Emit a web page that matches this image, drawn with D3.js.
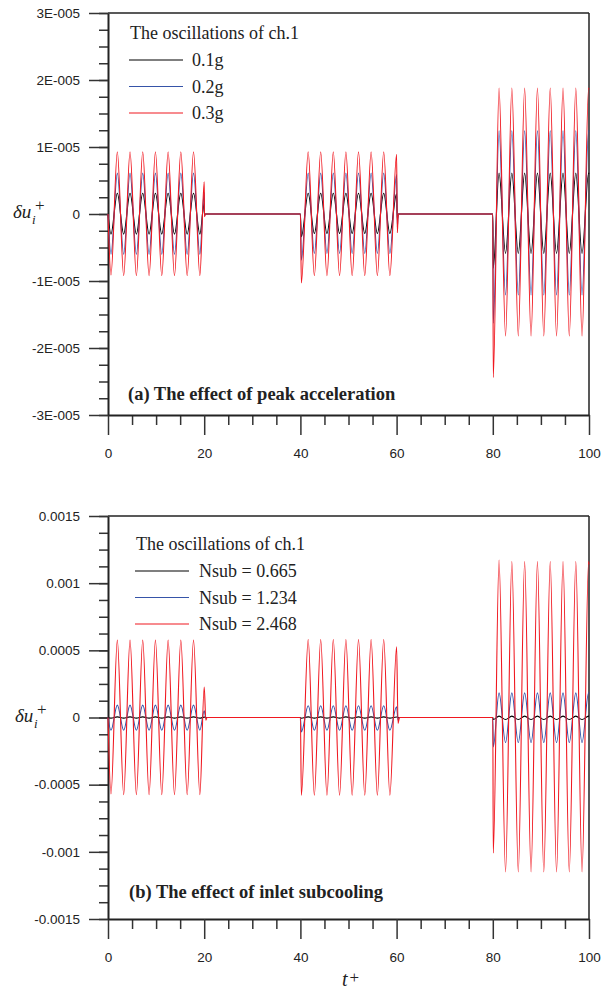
<!DOCTYPE html>
<html>
<head>
<meta charset="utf-8">
<script src="https://cdn.jsdelivr.net/npm/d3@7"></script>
<style>
  body { margin: 0; background: #fff; }
  svg { display: block; }
  .axis text { font-family: "Liberation Sans", Arial, sans-serif; font-size: 13.5px; fill: #222; }
  .serif { font-family: "Liberation Serif", "Times New Roman", serif; fill: #222; }
</style>
</head>
<body>
<svg id="chart" width="611" height="988"></svg>
<script>
// tijd-as
var xTicks = [0, 20, 40, 60, 80, 100]
var xMinor = [5, 10, 15, 25, 30, 35, 45, 50, 55, 65, 70, 75, 85, 90, 95]

// (a) waarden in eenheden van 1E-006
var tA = [
  0, 0.62, 1.94, 3.26, 4.58, 5.9, 7.22, 8.54, 9.86, 11.18, 12.5, 13.82, 15.14, 16.46, 17.78, 19.1, 20, 20.06, 20.25,
  40, 40.2, 41.62, 42.9, 44.22, 45.52, 46.84, 48.14, 49.46, 50.76, 52.08, 53.38, 54.7, 56, 57.32, 58.6, 60, 60.15, 60.35,
  80, 80.1, 81.3, 82.65, 83.96, 85.3, 86.62, 87.95, 89.28, 90.6, 91.94, 93.25, 94.6, 95.9, 97.26, 98.55, 99.92, 100
]
var a01g = [
  0, -3.0, 3.1, -3.0, 3.1, -3.0, 3.1, -3.0, 3.1, -3.0, 3.1, -3.0, 3.1, -3.0, 3.1, -3.0, 1.6, -0.1, 0,
  0, -3.4, 3.1, -2.9, 3.1, -2.9, 3.1, -2.9, 3.1, -2.9, 3.1, -2.9, 3.1, -2.9, 3.1, -2.9, 3.0, -0.9, 0,
  0, -8.1, 6.1, -5.9, 6.1, -5.9, 6.1, -5.9, 6.1, -5.9, 6.1, -5.9, 6.1, -5.9, 6.1, -5.9, 6.1, 6.0
]
var a02g = [
  0, -6.0, 6.1, -6.0, 6.1, -6.0, 6.1, -6.0, 6.1, -6.0, 6.1, -6.0, 6.1, -6.0, 6.1, -6.0, 3.2, -0.3, 0,
  0, -6.9, 6.1, -5.9, 6.1, -5.9, 6.1, -5.9, 6.1, -5.9, 6.1, -5.9, 6.1, -5.9, 6.1, -5.9, 5.9, -1.9, 0,
  0, -16.3, 12.4, -12.1, 12.4, -12.1, 12.4, -12.1, 12.4, -12.1, 12.4, -12.1, 12.4, -12.1, 12.4, -12.1, 12.4, 12.3
]
var a03g = [
  0, -9.1, 9.3, -9.2, 9.3, -9.2, 9.3, -9.2, 9.3, -9.2, 9.3, -9.2, 9.3, -9.2, 9.3, -9.2, 4.8, -0.4, 0,
  0, -10.3, 9.3, -9.2, 9.3, -9.2, 9.3, -9.2, 9.3, -9.2, 9.3, -9.2, 9.3, -9.2, 9.3, -9.2, 8.9, -2.8, 0,
  0, -24.4, 18.8, -18.2, 18.8, -18.2, 18.8, -18.2, 18.8, -18.2, 18.8, -18.2, 18.8, -18.2, 18.8, -18.2, 18.8, 18.6
]
var yTicksA = [-30, -20, -10, 0, 10, 20, 30]
var yLabelsA = ["-3E-005", "-2E-005", "-1E-005", "0", "1E-005", "2E-005", "3E-005"]
var namesA = ["0.1g", "0.2g", "0.3g"]

// (b) waarden in eenheden van 1E-004
var tB = [
  0, 0.62, 1.94, 3.26, 4.58, 5.9, 7.22, 8.54, 9.86, 11.18, 12.5, 13.82, 15.14, 16.46, 17.78, 19.1, 20, 20.35, 20.6,
  40, 40.2, 41.62, 42.9, 44.22, 45.52, 46.84, 48.14, 49.46, 50.76, 52.08, 53.38, 54.7, 56, 57.32, 58.6, 60, 60.3, 60.6,
  80, 80.1, 81.3, 82.65, 83.96, 85.3, 86.62, 87.95, 89.28, 90.6, 91.94, 93.25, 94.6, 95.9, 97.26, 98.55, 99.92, 100
]
var bN0665 = [
  0, -0.05, 0.05, -0.05, 0.05, -0.05, 0.05, -0.05, 0.05, -0.05, 0.05, -0.05, 0.05, -0.05, 0.05, -0.05, 0.03, 0, 0,
  0, -0.06, 0.05, -0.05, 0.05, -0.05, 0.05, -0.05, 0.05, -0.05, 0.05, -0.05, 0.05, -0.05, 0.05, -0.05, 0.04, 0, 0,
  0, -0.15, 0.1, -0.15, 0.1, -0.15, 0.1, -0.15, 0.1, -0.15, 0.1, -0.15, 0.1, -0.15, 0.1, -0.15, 0.1, 0.1
]
var bN1234 = [
  0, -0.95, 0.92, -0.95, 0.92, -0.95, 0.92, -0.95, 0.92, -0.95, 0.92, -0.95, 0.92, -0.95, 0.92, -0.95, 0.5, -0.05, 0,
  0, -1.07, 0.87, -0.95, 0.87, -0.95, 0.87, -0.95, 0.87, -0.95, 0.87, -0.95, 0.87, -0.95, 0.87, -0.95, 0.8, -0.2, 0,
  0, -2.19, 1.83, -1.86, 1.83, -1.86, 1.83, -1.86, 1.83, -1.86, 1.83, -1.86, 1.83, -1.86, 1.83, -1.86, 1.83, 1.8
]
var bN2468 = [
  0, -5.7, 5.76, -5.74, 5.76, -5.74, 5.76, -5.74, 5.76, -5.74, 5.76, -5.74, 5.76, -5.74, 5.76, -5.74, 2.26, -0.2, 0,
  0, -5.79, 5.81, -5.79, 5.81, -5.79, 5.81, -5.79, 5.81, -5.79, 5.81, -5.79, 5.81, -5.79, 5.81, -5.79, 5.26, -0.45, 0,
  0, -10.1, 11.72, -11.5, 11.6, -11.5, 11.6, -11.5, 11.6, -11.5, 11.6, -11.5, 11.6, -11.5, 11.6, -11.5, 11.6, 11.4
]
var yTicksB = [-15, -10, -5, 0, 5, 10, 15]
var yLabelsB = ["-0.0015", "-0.001", "-0.0005", "0", "0.0005", "0.001", "0.0015"]
var namesB = ["Nsub = 0.665", "Nsub = 1.234", "Nsub = 2.468"]

var legendTitle = "The oscillations of ch.1"
var colors = ["#000000", "#3654a8", "#f01820"]

var svg = d3.select("#chart")
var left = 108, right = 589

function drawPanel(p) {
  // maakt een paneel met assen, lijnen, legenda en onderschrift

  var x = d3.scaleLinear().domain([0, 100]).range([left, right])
  var y = d3.scaleLinear().domain(p.domain).range([p.bottom, p.top])

  // minor ticks
  svg.append("g")
      .attr("transform", "translate(0," + p.bottom + ")")
      .call(d3.axisBottom(x).tickValues(xMinor).tickSize(10).tickFormat(""))
      .call(function(g) { g.select(".domain").remove() })
      .selectAll("line").attr("stroke", "#333").attr("stroke-width", 1.5)

  svg.append("g")
      .attr("transform", "translate(" + left + ",0)")
      .call(d3.axisLeft(y).tickValues(p.minor).tickSize(9).tickFormat(""))
      .call(function(g) { g.select(".domain").remove() })
      .selectAll("line").attr("stroke", "#333").attr("stroke-width", 1.5)

  // x as
  var xAxis = svg.append("g")
      .attr("class", "axis")
      .attr("transform", "translate(0," + p.bottom + ")")
      .call(d3.axisBottom(x).tickValues(xTicks).tickSize(20).tickSizeOuter(0).tickPadding(13.5))
  xAxis.select(".domain").attr("stroke", "#222").attr("stroke-width", 2)
  xAxis.selectAll(".tick line").attr("stroke", "#333").attr("stroke-width", 1.5)

  // y as
  var yAxis = svg.append("g")
      .attr("class", "axis")
      .attr("transform", "translate(" + left + ",0)")
      .call(d3.axisLeft(y).tickValues(p.ticks).tickSize(19).tickSizeOuter(0).tickPadding(9)
        .tickFormat(function(d, i) { return p.labels[i] }))
  yAxis.select(".domain").attr("stroke", "#222").attr("stroke-width", 2)
  yAxis.selectAll(".tick line").attr("stroke", "#333").attr("stroke-width", 1.5)

  // kader boven en rechts
  svg.append("line")
      .attr("x1", left).attr("x2", right)
      .attr("y1", y(p.domain[1])).attr("y2", y(p.domain[1]))
      .attr("stroke", "#222").attr("stroke-width", 1.5)
  svg.append("line")
      .attr("x1", right).attr("x2", right)
      .attr("y1", y(p.domain[1])).attr("y2", p.bottom)
      .attr("stroke", "#222").attr("stroke-width", 1.5)

  // lijnen
  p.series.forEach(function(s, k) {
    var line = d3.line()
        .x(function(d, i) { return x(p.t[i]) })
        .y(function(d) { return y(d) })
        .curve(d3.curveMonotoneX)
    svg.append("path")
        .datum(s)
        .attr("fill", "none")
        .attr("stroke", colors[k])
        .attr("stroke-width", 1.1)
        .attr("d", line)
  })

  // legenda
  svg.append("text")
      .attr("class", "serif")
      .attr("x", p.legend.x).attr("y", p.legend.y)
      .attr("font-size", 18)
      .text(legendTitle)

  var leg = svg.append("g")
    .selectAll("g")
    .data(p.names)
    .enter().append("g")
      .attr("transform", function(d, i) {
        return "translate(" + p.legend.x + "," + (p.legend.y0 + i * p.legend.step) + ")" })

  leg.append("line")
      .attr("x1", -1).attr("x2", 53)
      .attr("stroke", function(d, i) { return colors[i] })
      .attr("stroke-width", 1.1)

  leg.append("text")
      .attr("class", "serif")
      .attr("x", p.legend.tx).attr("y", 6)
      .attr("font-size", 18)
      .text(function(d) { return d })

  // onderschrift
  svg.append("text")
      .attr("class", "serif")
      .attr("x", p.caption.x).attr("y", p.caption.y)
      .attr("font-size", 18.5)
      .attr("font-weight", "bold")
      .attr("fill", "#111")
      .text(p.caption.text)

  // y label
  var by = y(0) + 4
  var yl = svg.append("g").attr("class", "serif").attr("font-style", "italic")
  yl.append("text").attr("x", p.ylabX).attr("y", by).attr("font-size", 19).text("\u03b4u")
  yl.append("text").attr("x", p.ylabX + 19).attr("y", by + 6).attr("font-size", 13).text("i")
  yl.append("text").attr("x", p.ylabX + 22).attr("y", by - 7).attr("font-size", 17)
    .attr("font-style", "normal").text("+")
}

drawPanel({
  top: 13, bottom: 415, domain: [-30, 30],
  ticks: yTicksA, labels: yLabelsA, minor: d3.range(-30, 30.1, 2.5),
  t: tA, series: [a01g, a02g, a03g], names: namesA,
  legend: {x: 130, y: 38.5, y0: 60, step: 26.5, tx: 62},
  caption: {x: 128, y: 400, text: "(a) The effect of peak acceleration"},
  ylabX: 13
})

drawPanel({
  top: 516, bottom: 919, domain: [-15, 15],
  ticks: yTicksB, labels: yLabelsB, minor: d3.range(-15, 15.1, 1.25),
  t: tB, series: [bN0665, bN1234, bN2468], names: namesB,
  legend: {x: 136, y: 550, y0: 571, step: 26.5, tx: 63},
  caption: {x: 129, y: 898, text: "(b) The effect of inlet subcooling"},
  ylabX: 15
})

// x label
var xl = svg.append("g").attr("class", "serif")
xl.append("text").attr("x", 342).attr("y", 985.5).attr("font-size", 20).attr("font-style", "italic").text("t")
xl.append("text").attr("x", 349.5).attr("y", 983).attr("font-size", 17).text("+")
</script>
</body>
</html>
